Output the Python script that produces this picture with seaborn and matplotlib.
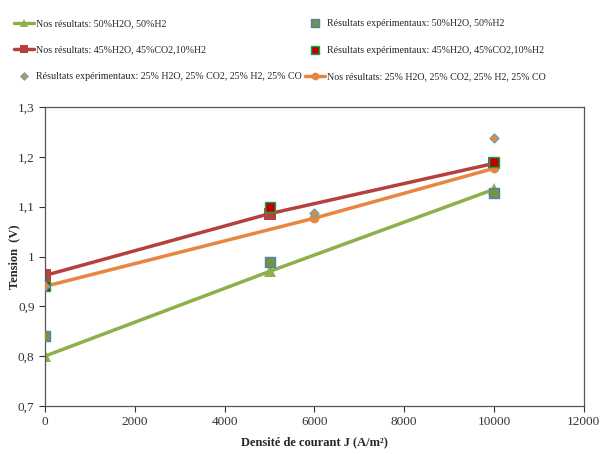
import matplotlib
matplotlib.use("Agg")
import matplotlib.pyplot as plt
import seaborn as sns
import pandas as pd

# Données
j_sim = [0, 5000, 10000]
j_sim_co = [0, 6000, 10000]
sim_h2 = [0.80, 0.970, 1.135]
sim_co2 = [0.962, 1.086, 1.187]
sim_co = [0.940, 1.077, 1.177]

exp_h2 = [0.84, 0.988, 1.127]
exp_co2 = [0.94, 1.100, 1.190]
exp_co = [0.94, 1.087, 1.238]

yticks = [0.7, 0.8, 0.9, 1.0, 1.1, 1.2, 1.3]
ytick_labels = ["0,7", "0,8", "0,9", "1", "1,1", "1,2", "1,3"]
xticks = [0, 2000, 4000, 6000, 8000, 10000, 12000]

sns.set_style("ticks")
plt.rcParams['font.family'] = ['Liberation Serif', 'DejaVu Serif']

fig = plt.figure(figsize=(6, 4.54), dpi=100)
ax = fig.add_axes([0.075, 0.106, 0.898, 0.658])

df1 = pd.DataFrame({"J": j_sim, "U": sim_h2})
df2 = pd.DataFrame({"J": j_sim, "U": sim_co2})
df3 = pd.DataFrame({"J": j_sim_co, "U": sim_co})

sns.lineplot(data=df1, x="J", y="U", ax=ax, color="#8DB04A", lw=2.5, marker="^",
             markersize=8, markeredgewidth=0, label="Nos résultats: 50%H2O, 50%H2")
sns.lineplot(data=df2, x="J", y="U", ax=ax, color="#B5403D", lw=2.5, marker="s",
             markersize=8, markeredgewidth=0, label="Nos résultats: 45%H2O, 45%CO2,10%H2")
sns.scatterplot(x=j_sim_co, y=exp_co, ax=ax, marker="D", s=22, color="#E8853F",
                edgecolor="#4BACC6", linewidth=0.8, zorder=5,
                label="Résultats expérimentaux: 25% H2O, 25% CO2, 25% H2, 25% CO")
sns.scatterplot(x=j_sim, y=exp_h2, ax=ax, marker="s", s=60, color="#77933C",
                edgecolor="#4F81BD", linewidth=1.0, zorder=4,
                label="Résultats expérimentaux: 50%H2O, 50%H2")
sns.scatterplot(x=j_sim, y=exp_co2, ax=ax, marker="s", s=60, color="#C00000",
                edgecolor="#00B050", linewidth=1.0, zorder=4,
                label="Résultats expérimentaux: 45%H2O, 45%CO2,10%H2")
sns.lineplot(data=df3, x="J", y="U", ax=ax, color="#E8853F", lw=2.5, marker="o",
             markersize=7, markeredgewidth=0, label="Nos résultats: 25% H2O, 25% CO2, 25% H2, 25% CO")

ax.set_xlim(0, 12000)
ax.set_ylim(0.7, 1.3)
ax.set_xticks(xticks)
ax.set_xticklabels([str(x) for x in xticks], fontsize=9.5)
ax.set_yticks(yticks)
ax.set_yticklabels(ytick_labels, fontsize=9.5)
ax.tick_params(direction="out", length=4, width=0.8, colors="#333333")
for s in ax.spines.values():
    s.set_visible(True)
    s.set_color("#555555")
    s.set_linewidth(0.9)

ax.set_xlabel("Densité de courant J (A/m²)", fontsize=9, fontweight="bold", labelpad=6)
ax.set_ylabel("Tension  (V)", fontsize=9, fontweight="bold")
ax.yaxis.set_label_coords(-0.045, 0.5)

h, l = ax.get_legend_handles_labels()
ax.legend(h, l, ncol=2, loc="upper left",
          bbox_to_anchor=(-0.075, 1.325), frameon=False, fontsize=7.2,
          handlelength=2.0, handletextpad=0.2, columnspacing=0.4, labelspacing=1.75,
          markerscale=0.8)

fig.savefig("out.png", dpi=100)
